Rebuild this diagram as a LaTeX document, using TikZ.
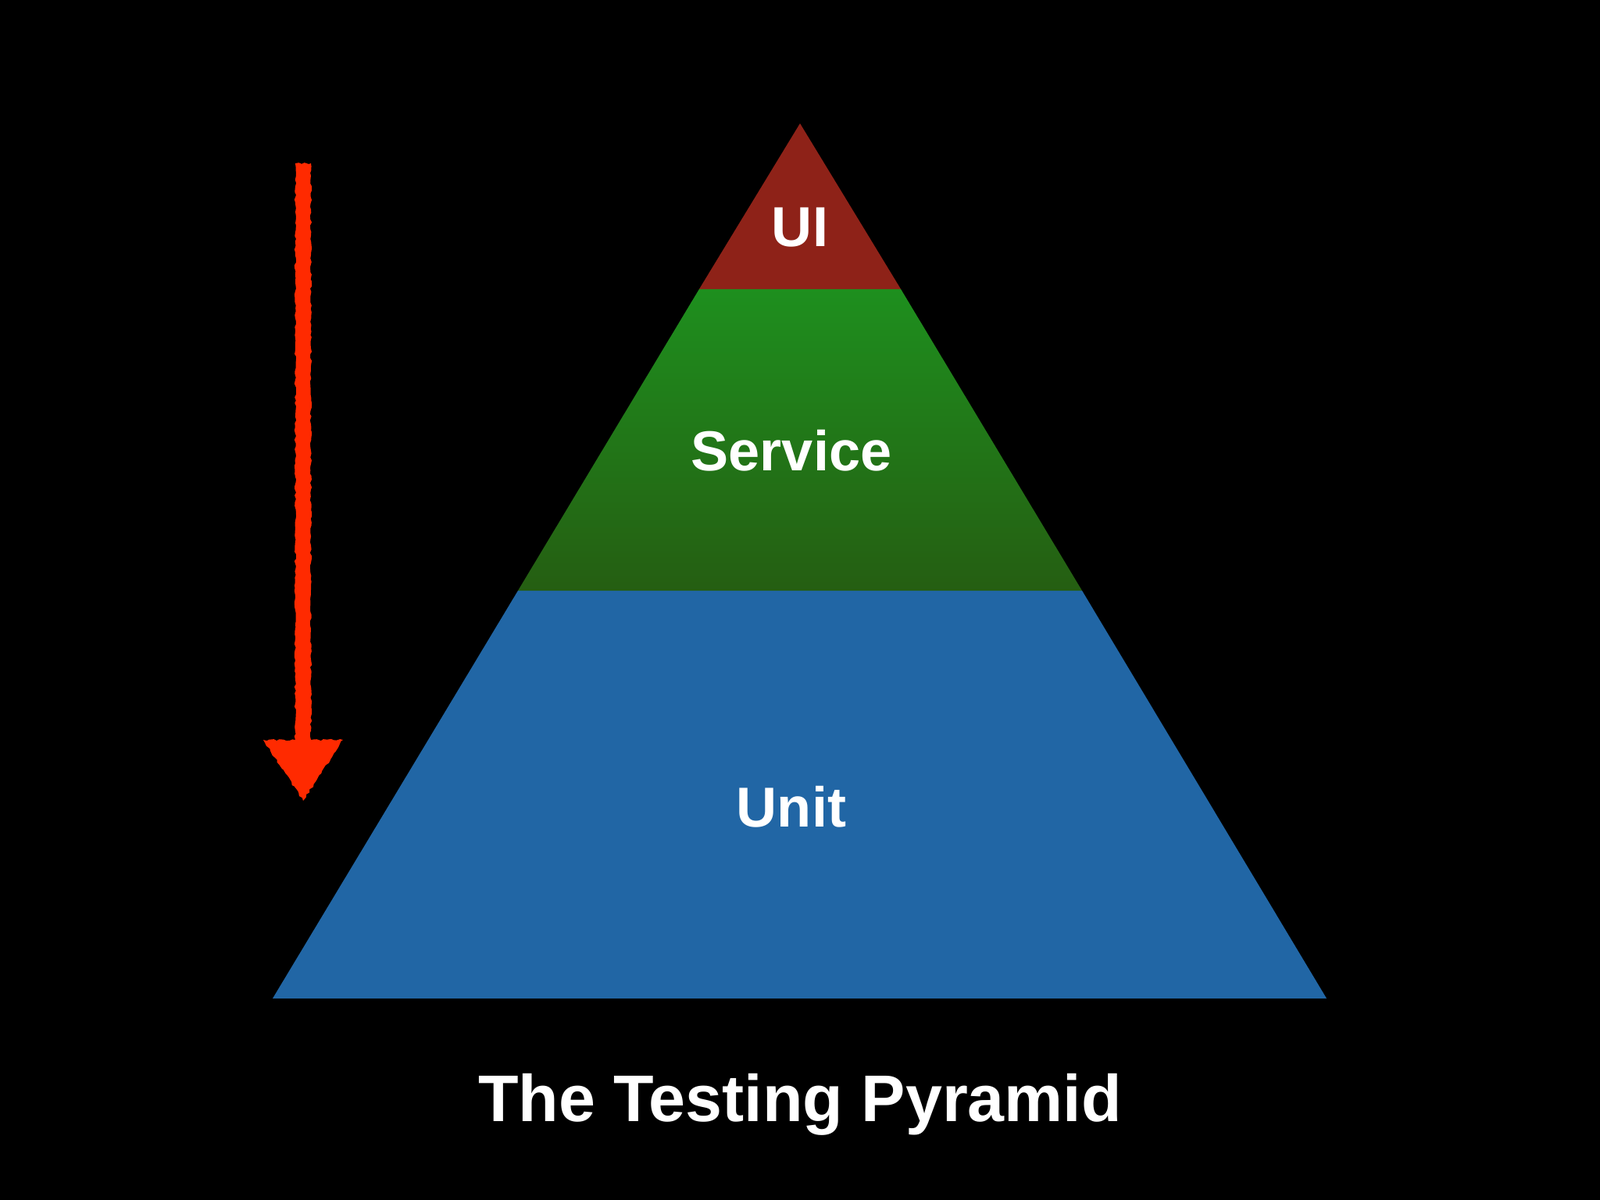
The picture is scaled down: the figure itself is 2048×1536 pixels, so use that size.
\documentclass[tikz,border=0pt]{standalone}
\usepackage{fontspec}
\setmainfont{Liberation Sans}
\usetikzlibrary{decorations.pathmorphing}
\definecolor{uired}{HTML}{8E2218}
\definecolor{svctop}{HTML}{1E8F1E}
\definecolor{svcbot}{HTML}{255E12}
\definecolor{unitblue}{HTML}{2166A5}
\definecolor{arrowred}{HTML}{FF2A00}
\tikzset{
  layerlabel/.style={text=white, font=\bfseries\fontsize{20.5pt}{24pt}\selectfont, anchor=base, inner sep=0pt},
  titlelabel/.style={text=white, font=\bfseries\fontsize{24pt}{28pt}\selectfont, anchor=base, inner sep=0pt},
  rough/.style={decorate, decoration={random steps, segment length=1.2pt, amplitude=0.35pt}}
}
\begin{document}
\begin{tikzpicture}[x=0.01cm, y=-0.01cm]
\useasboundingbox (0,0) rectangle (2048,1536);
\fill[black] (0,0) rectangle (2048,1536);
% layers
\coordinate (apex) at (1024,158);
\coordinate (ul) at (895,370);
\coordinate (ur) at (1153,370);
\coordinate (ml) at (663,756);
\coordinate (mr) at (1385,756);
\coordinate (bl) at (349,1278);
\coordinate (br) at (1698,1278);
\fill[unitblue] (ml) -- (mr) -- (br) -- (bl) -- cycle;
\shade[top color=svctop, bottom color=svcbot] (ul) -- (ur) -- (mr) -- (ml) -- cycle;
\fill[uired] (apex) -- (ur) -- (ul) -- cycle;
% labels
\node[layerlabel] (ui) at (1024,315) {UI};
\node[layerlabel] (service) at (1013,602) {Service};
\node[layerlabel] (unit) at (1013,1058) {Unit};
\node[titlelabel] (title) at (1024,1435) {The Testing Pyramid};
% arrow
\fill[arrowred, rough] (378,209) -- (398,209) -- (398,947) -- (439,947) -- (388,1025) -- (337,947) -- (378,947) -- cycle;
\end{tikzpicture}
\end{document}
